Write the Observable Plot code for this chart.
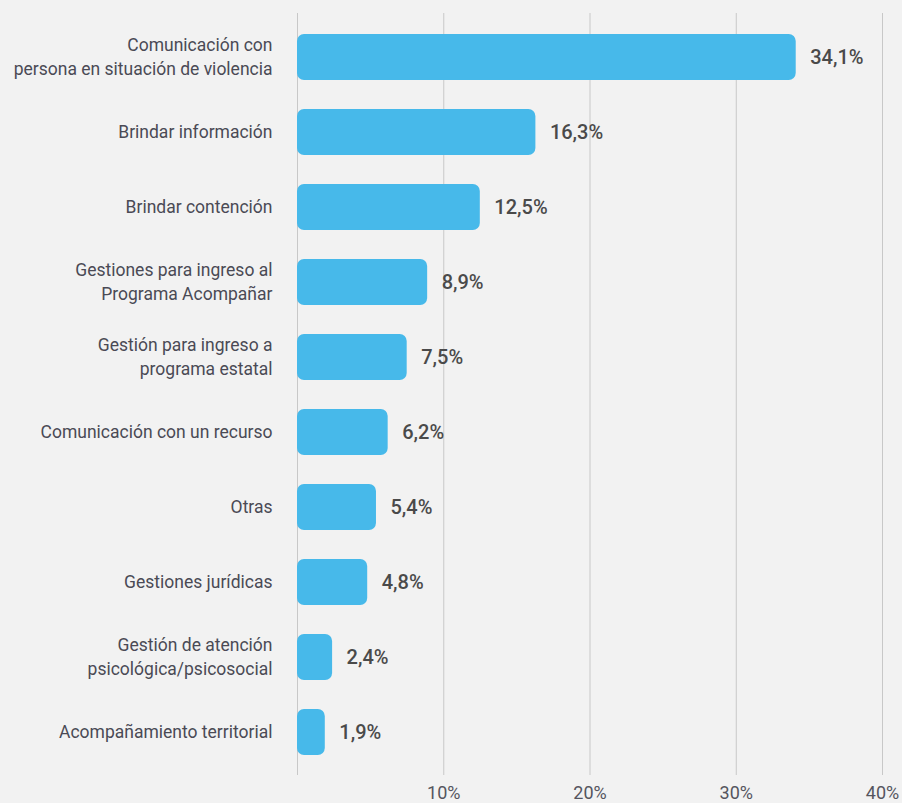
<!DOCTYPE html>
<html>
<head>
<meta charset="utf-8">
<script src="https://cdn.jsdelivr.net/npm/d3@7"></script>
<script src="https://cdn.jsdelivr.net/npm/@observablehq/plot@0.6"></script>
<style>
  html, body { margin: 0; padding: 0; background: #f2f2f2; }
  #chart svg { display: block; }
</style>
</head>
<body>
<div id="chart"></div>
<script>
const categories = [
  "Comunicación con\npersona en situación de violencia",
  "Brindar información",
  "Brindar contención",
  "Gestiones para ingreso al\nPrograma Acompañar",
  "Gestión para ingreso a\nprograma estatal",
  "Comunicación con un recurso",
  "Otras",
  "Gestiones jurídicas",
  "Gestión de atención\npsicológica/psicosocial",
  "Acompañamiento territorial"
];
const values = [34.1, 16.3, 12.5, 8.9, 7.5, 6.2, 5.4, 4.8, 2.4, 1.9];
const valueLabels = ["34,1%", "16,3%", "12,5%", "8,9%", "7,5%", "6,2%", "5,4%", "4,8%", "2,4%", "1,9%"];
const gridTicks = [0, 10, 20, 30, 40];
const axisTicks = [10, 20, 30, 40];

const data = categories.map((c, i) => ({cat: c, value: values[i], label: valueLabels[i]}));

const chart = Plot.plot({
  width: 902,
  height: 803,
  marginLeft: 297,
  marginRight: 20,
  marginTop: 13,
  marginBottom: 28,
  style: {background: "#f2f2f2", fontFamily: "Roboto, 'Noto Sans', sans-serif", fontSize: "18px", color: "#55555e"},
  x: {domain: [0, 40], ticks: axisTicks, tickFormat: d => d + "%", tickSize: 0, tickPadding: 11, label: null},
  y: {domain: categories, paddingInner: 0.39, paddingOuter: 0.24, axis: null},
  marks: [
    Plot.ruleX(gridTicks, {stroke: "#c8c8c8", strokeWidth: 1}),
    Plot.barX(data, {x: "value", y: "cat", fill: "#47b9ea", rx: 7}),
    Plot.text(data, {x: () => 0, y: "cat", text: "cat", textAnchor: "end", dx: -25, dy: -2, lineHeight: 1.36, fontSize: 17.5, fill: "#4a4a55"}),
    Plot.text(data, {x: "value", y: "cat", text: "label", textAnchor: "start", dx: 14, fontSize: 20, fontWeight: 500, fill: "#4a4a4a"})
  ]
});
document.getElementById("chart").appendChild(chart);
</script>
</body>
</html>
